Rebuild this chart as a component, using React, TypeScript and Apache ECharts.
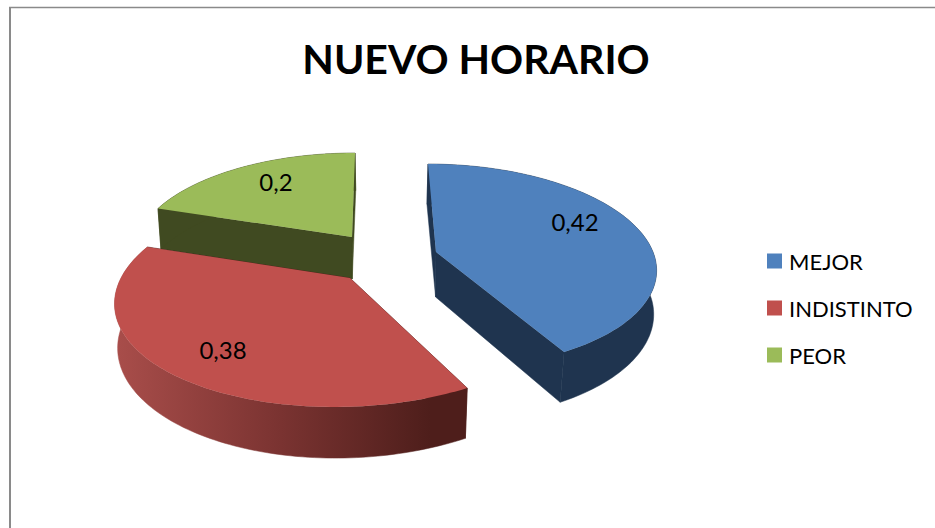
import React, { useEffect, useRef } from "react";
import * as echarts from "echarts";

const TITLE = "NUEVO HORARIO";
const categories = ["MEJOR", "INDISTINTO", "PEOR"];
const values = [0.42, 0.38, 0.2];
const valueLabels = ["0,42", "0,38", "0,2"];
const colors = ["#4F81BD", "#C0504D", "#9BBB59"];
const sideColors = ["#1F344F", "#4E1E1B", "#404A21"];

// Perspective geometry of each exploded slice: apex, radii, skew, perspective, depth, label offset.
const geometry = [
  { ax: 436, ay: 252, rx: 217, ry: 100.2, b: -9.1, p: 0.139, d: 45, lx: 139, ly: -31 },
  { ax: 350, ay: 278, rx: 229, ry: 106, b: 13, p: 0.178, d: 45, lx: -127, ly: 71.5 },
  { ax: 352, ay: 237, rx: 214.6, ry: 96.6, b: 3.5, p: 0.15, d: 42, lx: -76, ly: -56 },
];
const VANISH_X = 384;
const DEPTH_P = 0.12;

const startFractions = values.map((_, i) =>
  values.slice(0, i).reduce((a, v) => a + v, 0)
);

function rim(i: number, theta: number) {
  const g = geometry[i];
  const s = Math.sin(theta);
  const c = Math.cos(theta);
  const w = 1 + g.p * c;
  return [g.ax + (g.rx * s + g.b * c) / w, g.ay - (g.ry * c) / w, c];
}
function lower(i: number, pt: number[]) {
  const g = geometry[i];
  const c = pt[2];
  const k = 0.992 - 0.016 * Math.abs(c);
  return [VANISH_X + (pt[0] - VANISH_X) * k, pt[1] + g.d / (1 + DEPTH_P * c)];
}

function makeRenderItem(i: number) {
  return (_params: any, api: any) => {
    const g = geometry[i];
    const v = api.value(0) as number;
    const total = values.reduce((a, x) => a + x, 0);
    const a0 = (startFractions[i] / total) * Math.PI * 2;
    const a1 = a0 + (v / total) * Math.PI * 2;
    const steps = Math.max(8, Math.round((a1 - a0) * 45));
    const arc: number[][] = [];
    for (let k = 0; k <= steps; k++) arc.push(rim(i, a0 + ((a1 - a0) * k) / steps));
    const apex = [g.ax, g.ay, 0];
    const lowApex = lower(i, apex);
    const lowArc = arc.map((p) => lower(i, p));
    const top = [[g.ax, g.ay], ...arc.map((p) => [p[0], p[1]])];
    const side = sideColors[i];
    const wallFill =
      i === 1
        ? new echarts.graphic.LinearGradient(
            118,
            0,
            430,
            0,
            [
              { offset: 0, color: "#A84D4A" },
              { offset: 0.5, color: "#7C3432" },
              { offset: 1, color: "#4E1E1B" },
            ],
            true
          )
        : side;
    const children: any[] = [];
    const quad = (p: number[], lp: number[]) => [
      [g.ax, g.ay],
      [p[0], p[1]],
      lp,
      lowApex,
    ];
    children.push({
      type: "polygon",
      shape: { points: quad(arc[0], lowArc[0]) },
      style: { fill: side, stroke: side, lineWidth: 0.5 },
    });
    children.push({
      type: "polygon",
      shape: { points: quad(arc[steps], lowArc[steps]) },
      style: { fill: side, stroke: side, lineWidth: 0.5 },
    });
    children.push({
      type: "polygon",
      shape: {
        points: [
          ...arc.map((p) => [p[0], p[1]]),
          ...lowArc.slice().reverse(),
        ],
      },
      style: { fill: wallFill, stroke: wallFill, lineWidth: 0.5 },
    });
    children.push({
      type: "polygon",
      shape: { points: top },
      style: { fill: colors[i] },
    });
    children.push({
      type: "text",
      x: g.ax + g.lx,
      y: g.ay + g.ly,
      style: {
        text: valueLabels[i],
        fill: "#000000",
        font: "24px Lato",
        align: "center",
        verticalAlign: "middle",
      },
    });
    return { type: "group", children };
  };
}

export default function App() {
  const ref = useRef<HTMLDivElement>(null);
  useEffect(() => {
    const chart = echarts.init(ref.current!, undefined, { renderer: "svg" });
    // green is behind, blue next, red in front
    const order = [2, 0, 1];
    chart.setOption({
      animation: false,
      backgroundColor: "#ffffff",
      title: {
        text: TITLE,
        left: 471,
        top: 33,
        textAlign: "center",
        textStyle: {
          fontFamily: "Lato",
          fontWeight: "bold",
          fontSize: 41,
          color: "#000000",
        },
      },
      legend: {
        orient: "vertical",
        left: 762,
        top: 245,
        itemWidth: 15,
        itemHeight: 15,
        itemGap: 25,
        icon: "rect",
        data: categories,
        textStyle: {
          fontFamily: "Lato",
          fontSize: 22,
          color: "#000000",
          padding: [0, 0, 0, 2],
        },
      },
      graphic: [
        {
          type: "line",
          shape: { x1: 10, y1: 7, x2: 10, y2: 528 },
          style: { stroke: "#8A8A8A", lineWidth: 2 },
        },
        {
          type: "line",
          shape: { x1: 9, y1: 7.5, x2: 935, y2: 7.5 },
          style: { stroke: "#8A8A8A", lineWidth: 1.5 },
        },
      ],
      series: order.map((i) => ({
        type: "custom",
        name: categories[i],
        coordinateSystem: "none",
        silent: true,
        itemStyle: { color: colors[i] },
        data: [[values[i]]],
        renderItem: makeRenderItem(i),
      })),
    });
    return () => chart.dispose();
  }, []);
  return (
    <div
      ref={ref}
      style={{ position: "fixed", left: 0, top: 0, width: 935, height: 528 }}
    />
  );
}
